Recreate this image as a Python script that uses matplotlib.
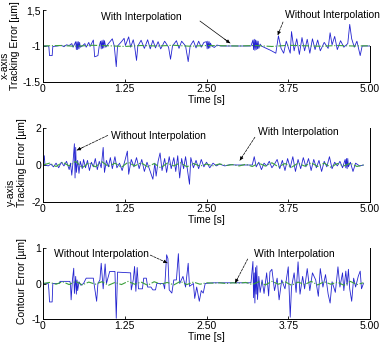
import matplotlib
matplotlib.use("Agg")
import matplotlib.pyplot as plt

plt.rcParams['font.family'] = ['Liberation Sans', 'DejaVu Sans']
plt.rcParams['font.size'] = 7.5

# ---- x-axis tracking error ----
tx_wo = [0.00, 0.08, 0.09, 0.10, 0.14, 0.15, 0.22, 0.28, 0.32, 0.36,
         0.40, 0.44, 0.46, 0.50, 0.51, 0.52, 0.53, 0.54, 0.55, 0.56,
         0.57, 0.60, 0.64, 0.66, 0.70, 0.72, 0.77, 0.79, 0.84, 0.86,
         0.88, 0.89, 0.90, 0.91, 0.92, 0.93, 0.94, 0.96, 1.00, 1.06,
         1.09, 1.12, 1.14, 1.20, 1.24, 1.26, 1.31, 1.34, 1.38, 1.40,
         1.43, 1.45, 1.50, 1.55, 1.60, 1.64, 1.68, 1.72, 1.76, 1.80,
         1.86, 1.92, 1.95, 1.98, 2.04, 2.08, 2.12, 2.18, 2.22, 2.25,
         2.30, 2.34, 2.38, 2.42, 2.46, 2.50, 2.51, 2.52, 2.53, 2.54,
         2.55, 2.56, 2.58, 2.62, 2.66, 2.72, 2.80, 3.18, 3.21, 3.22,
         3.23, 3.24, 3.25, 3.26, 3.27, 3.28, 3.29, 3.30, 3.32, 3.34,
         3.40, 3.48, 3.56, 3.60, 3.64, 3.68, 3.72, 3.78, 3.80, 3.84,
         3.88, 3.92, 3.96, 4.00, 4.04, 4.08, 4.12, 4.16, 4.20, 4.24,
         4.30, 4.36, 4.39, 4.42, 4.46, 4.50, 4.55, 4.60, 4.66, 4.69,
         4.72, 4.76, 4.80, 4.85, 4.88, 5.00]
ex_wo = [0.00, 0.00, -0.05, -0.40, -0.40, -0.02, 0.00, 0.03, -0.03, 0.05,
         0.02, 0.10, -0.05, 0.18, -0.15, 0.18, -0.15, 0.18, -0.12, 0.15,
         -0.05, 0.00, 0.10, -0.05, 0.15, -0.02, 0.25, -0.45, -0.40, 0.00,
         0.20, -0.12, 0.22, -0.10, 0.25, -0.08, 0.22, -0.05, 0.10, 0.30,
         0.00, -0.86, 0.00, 0.18, 0.32, 0.02, 0.38, -0.05, 0.26, 0.00,
         -0.60, 0.00, 0.24, -0.10, 0.26, -0.12, 0.24, -0.08, 0.18, -0.12,
         0.20, -0.05, -0.55, 0.00, 0.22, -0.10, 0.20, 0.00, -0.65, 0.00,
         0.22, -0.08, 0.20, -0.05, 0.15, 0.18, -0.12, 0.20, -0.10, 0.18,
         -0.08, 0.12, 0.00, -0.06, 0.04, 0.00, 0.00, 0.00, 0.25, -0.15,
         0.28, -0.18, 0.25, -0.15, 0.22, -0.12, 0.20, -0.10, 0.08, 0.00,
         -0.08, -0.18, -0.30, 0.42, -0.10, -0.30, 0.20, -0.30, 0.60, -0.20,
         0.30, -0.35, 0.35, -0.20, 0.28, -0.30, 0.30, -0.15, 0.25, -0.20,
         0.15, -0.10, 0.55, 0.05, 0.40, -0.15, 0.22, -0.05, 0.10, 0.90,
         0.30, -0.05, 0.20, -0.40, 0.00, 0.00]
tx_w = [0.0, 0.25, 0.5, 0.75, 1.0, 1.25, 1.5, 1.75, 2.0, 2.25, 2.5,
        2.75, 3.0, 3.25, 3.5, 3.75, 4.0, 4.25, 4.5, 4.75, 5.0]
ex_w = [0.00, 0.02, -0.01, 0.03, 0.01, -0.02, 0.02, 0.00, 0.03, -0.01, 0.02,
        0.01, 0.00, 0.02, -0.02, 0.03, 0.01, -0.01, 0.02, 0.00, 0.01]

# ---- y-axis tracking error ----
ty_wo = [0.00, 0.02, 0.03, 0.08, 0.12, 0.16, 0.20, 0.24, 0.28, 0.32,
         0.36, 0.40, 0.42, 0.44, 0.46, 0.48, 0.49, 0.50, 0.51, 0.53,
         0.55, 0.57, 0.60, 0.62, 0.65, 0.68, 0.71, 0.74, 0.77, 0.80,
         0.83, 0.86, 0.89, 0.92, 0.94, 0.97, 1.00, 1.03, 1.06, 1.10,
         1.13, 1.17, 1.21, 1.25, 1.29, 1.31, 1.35, 1.39, 1.43, 1.47,
         1.51, 1.55, 1.59, 1.63, 1.68, 1.71, 1.73, 1.76, 1.79, 1.82,
         1.86, 1.89, 1.93, 1.96, 2.00, 2.03, 2.06, 2.09, 2.12, 2.15,
         2.18, 2.21, 2.24, 2.26, 2.30, 2.34, 2.38, 2.42, 2.46, 2.50,
         2.55, 2.60, 2.65, 2.70, 2.78, 2.86, 2.95, 3.20, 3.23, 3.26,
         3.30, 3.34, 3.38, 3.42, 3.46, 3.50, 3.54, 3.58, 3.62, 3.66,
         3.70, 3.74, 3.78, 3.82, 3.86, 3.90, 3.94, 3.98, 4.02, 4.06,
         4.10, 4.14, 4.18, 4.22, 4.26, 4.30, 4.34, 4.38, 4.42, 4.46,
         4.50, 4.54, 4.58, 4.62, 4.63, 4.64, 4.65, 4.66, 4.67, 4.70,
         4.74, 4.78, 4.84, 4.90]
ey_wo = [0.00, 0.50, 0.00, -0.05, 0.05, -0.10, 0.10, -0.15, 0.15, -0.05,
         0.20, -0.25, 0.10, -0.55, 0.20, 1.15, -0.70, 0.95, -0.40, 0.25,
         -0.45, 0.20, -0.20, 0.30, -0.15, 0.25, -0.30, 0.15, -0.10, 0.35,
         -0.25, 0.20, -0.15, 0.95, -0.40, 0.25, -0.10, 0.40, -0.20, 0.45,
         -0.15, 0.10, -0.30, 0.20, 0.75, -0.50, 0.30, -0.10, 0.40, -0.20,
         0.30, -0.35, 0.15, -0.25, -0.77, 0.10, -0.60, 0.20, 0.65, -0.30,
         0.35, -0.40, 0.45, -0.20, 0.40, -0.35, 0.50, -0.70, 0.35, -0.20,
         0.45, -0.30, -1.04, 0.40, -0.15, 0.25, -0.20, 0.30, -0.10, 0.15,
         -0.15, 0.10, -0.05, 0.05, -0.05, 0.02, 0.00, 0.00, 0.45, -0.10,
         0.15, -0.25, 0.10, -0.05, 0.20, -0.15, 0.05, 0.30, -0.20, 0.25,
         -0.30, 0.35, -0.15, 0.45, -0.35, 0.30, -0.20, 0.40, -0.10, 0.35,
         -0.30, 0.30, -0.15, 0.25, -0.35, 0.20, -0.10, 0.45, -0.20, 0.15,
         -0.05, 0.20, -0.15, 0.30, -0.15, 0.35, -0.20, 0.35, -0.10, 0.15,
         -0.35, 0.10, -0.05, 0.00]
t_grid = [0.0, 0.1, 0.2, 0.3, 0.4, 0.5, 0.6, 0.7, 0.8, 0.9,
          1.0, 1.1, 1.2, 1.3, 1.4, 1.5, 1.6, 1.7, 1.8, 1.9,
          2.0, 2.1, 2.2, 2.3, 2.4, 2.5, 2.6, 2.7, 2.8, 2.9,
          3.0, 3.1, 3.2, 3.3, 3.4, 3.5, 3.6, 3.7, 3.8, 3.9,
          4.0, 4.1, 4.2, 4.3, 4.4, 4.5, 4.6, 4.7, 4.8, 4.9]
ey_w = [0.00, 0.10, -0.08, 0.15, -0.05, 0.20, -0.15, 0.12, -0.10, 0.18,
        -0.08, 0.10, -0.12, 0.15, -0.05, 0.12, -0.10, 0.08, -0.15, 0.10,
        -0.05, 0.12, -0.10, 0.08, -0.06, 0.05, -0.04, 0.06, -0.03, 0.02,
        -0.05, 0.04, -0.08, 0.10, -0.06, 0.12, -0.10, 0.08, -0.12, 0.10,
        -0.06, 0.12, -0.08, 0.10, -0.12, 0.08, -0.05, 0.10, -0.08, 0.00]

# ---- contour error ----
tc_wo = [0.00, 0.08, 0.09, 0.10, 0.14, 0.15, 0.25, 0.26, 0.41, 0.42,
         0.43, 0.45, 0.47, 0.48, 0.50, 0.51, 0.52, 0.53, 0.55, 0.58,
         0.62, 0.66, 0.77, 0.78, 0.82, 0.84, 0.87, 0.89, 0.92, 0.95,
         0.97, 1.02, 1.10, 1.12, 1.14, 1.34, 1.35, 1.38, 1.40, 1.42,
         1.44, 1.46, 1.52, 1.54, 1.58, 1.60, 1.65, 1.68, 1.72, 1.74,
         1.84, 1.86, 1.89, 1.91, 1.93, 1.97, 2.00, 2.04, 2.07, 2.09,
         2.14, 2.18, 2.22, 2.24, 2.30, 2.32, 2.35, 2.39, 2.42, 2.45,
         2.48, 2.60, 3.18, 3.21, 3.22, 3.23, 3.24, 3.25, 3.26, 3.27,
         3.28, 3.30, 3.32, 3.35, 3.38, 3.42, 3.45, 3.47, 3.50, 3.54,
         3.58, 3.61, 3.65, 3.70, 3.75, 3.78, 3.80, 3.84, 3.87, 3.90,
         3.93, 3.97, 4.00, 4.04, 4.08, 4.12, 4.17, 4.21, 4.24, 4.28,
         4.32, 4.36, 4.39, 4.42, 4.47, 4.51, 4.54, 4.58, 4.60, 4.63,
         4.65, 4.67, 4.69, 4.72, 4.75, 4.78, 4.82, 4.85, 4.87, 4.90]
ec_wo = [0.00, 0.00, -0.18, -0.52, -0.52, 0.00, 0.00, 0.06, 0.06, 0.00,
         -0.46, 0.10, 0.43, -0.28, 0.20, -0.30, 0.10, -0.20, 0.05, -0.05,
         0.00, 0.15, 0.15, 0.00, -0.50, 0.00, 0.10, 0.57, -0.15, 0.55,
         0.00, 0.34, 0.34, -0.98, 0.32, 0.30, -0.18, 0.10, 0.48, -0.22,
         0.45, -0.15, -0.15, 0.15, 0.15, -0.10, -0.10, -0.18, -0.18, 0.00,
         0.00, -0.15, 0.81, 0.70, -0.18, -0.27, 0.10, 0.10, 0.84, 0.00,
         0.20, -0.10, 0.57, -0.08, 0.00, -0.42, -0.10, -0.50, -0.20, -0.27,
         0.00, 0.02, 0.02, 0.62, -0.40, 0.30, -0.55, 0.45, -0.30, 0.50,
         -0.45, 0.20, -0.25, 0.10, -0.28, 0.30, -0.35, 0.33, 0.40, -0.20,
         0.15, -0.46, 0.10, -0.15, 0.47, -0.95, -0.10, 0.30, -0.25, 0.61,
         -0.30, 0.20, -0.15, 0.42, -0.20, 0.30, 0.10, -0.36, 0.42, -0.10,
         0.25, -0.30, -0.55, 0.05, -0.25, 0.47, -0.10, 0.30, -0.20, 0.35,
         -0.05, 0.40, -0.15, -0.50, 0.15, -0.10, 0.20, 0.35, -0.15, 0.00]
ec_w = [0.00, 0.03, -0.02, 0.05, -0.03, 0.06, -0.04, 0.04, -0.02, 0.05,
        -0.05, 0.03, -0.03, 0.06, -0.02, 0.04, -0.05, 0.05, -0.02, 0.03,
        -0.04, 0.06, -0.03, 0.04, -0.02, 0.02, 0.01, 0.02, 0.00, 0.02,
        0.01, 0.03, -0.03, 0.05, -0.04, 0.06, -0.02, 0.05, -0.05, 0.04,
        -0.03, 0.06, -0.04, 0.05, -0.02, 0.04, -0.05, 0.06, -0.03, 0.02]

xticks = [0, 1.25, 2.5, 3.75, 5.0]
xticklabels = ['0', '1.25', '2.50', '3.75', '5.00']

W, H = 386, 346
fig = plt.figure(figsize=(W / 100, H / 100), dpi=100)
fig.patch.set_facecolor('white')

BLUE = '#2424d0'
GREEN = '#3ca03c'


def px_axes(left, top, right, bottom):
    return fig.add_axes([left / W, 1 - bottom / H, (right - left) / W, (bottom - top) / H])


def style(ax, ylim, yticks, yticklabels):
    ax.set_xlim(0, 5)
    ax.set_ylim(*ylim)
    ax.set_xticks(xticks)
    ax.set_xticklabels(xticklabels)
    ax.set_yticks(yticks)
    ax.set_yticklabels(yticklabels)
    ax.spines['top'].set_visible(False)
    for s in ['left', 'bottom', 'right']:
        ax.spines[s].set_linewidth(0.7)
    ax.tick_params(direction='in', length=2, width=0.6, pad=1.5, labelsize=7.5)
    ax.set_xlabel('Time [s]', labelpad=0.5, fontsize=7.5)


def arrow(ax, text_pt, tip, dashed=True):
    x0, y0 = text_pt
    x1, y1 = tip
    ax.annotate('', xy=(x1, y1), xytext=(x0, y0),
                arrowprops=dict(arrowstyle='-', lw=0.5, color='black',
                                ls='--' if dashed else '-',
                                shrinkA=0, shrinkB=0))
    xm = x1 + (x0 - x1) * 0.18
    ym = y1 + (y0 - y1) * 0.18
    ax.annotate('', xy=(x1, y1), xytext=(xm, ym),
                arrowprops=dict(arrowstyle='-|>', lw=0.5, color='black',
                                mutation_scale=5, shrinkA=0, shrinkB=0))


# top panel
ax1 = px_axes(43, 10, 370, 82)
ax1.plot(tx_wo, ex_wo, color=BLUE, lw=0.6)
ax1.plot(tx_w, ex_w, color=GREEN, lw=0.8, ls='-.')
style(ax1, (-1.5, 1.5), [-1.5, 0, 1.5], ['-1.5', '-1', '1,5'])
ax1.spines['right'].set_bounds(-1.5, 0)
ax1.text(1.51, 1.21, 'With Interpolation', ha='center', va='center')
arrow(ax1, (2.40, 1.04), (2.86, 0.12), dashed=False)
ax1.text(4.43, 1.29, 'Without Interpolation', ha='center', va='center', clip_on=False)
arrow(ax1, (3.67, 1.0), (3.59, 0.46))

# middle panel
ax2 = px_axes(43, 128, 370, 202)
ax2.plot(ty_wo, ey_wo, color=BLUE, lw=0.6)
ax2.plot(t_grid, ey_w, color=GREEN, lw=0.8, ls='-.')
style(ax2, (-2, 2), [-2, 0, 2], ['-2', '0', '2'])
ax2.text(1.77, 1.57, 'Without Interpolation', ha='center', va='center')
arrow(ax2, (0.99, 1.6), (0.52, 0.8))
ax2.text(3.9, 1.77, 'With Interpolation', ha='center', va='center')
arrow(ax2, (3.24, 1.5), (3.01, 0.25))

# bottom panel
ax3 = px_axes(43, 248, 370, 319)
ax3.plot(tc_wo, ec_wo, color=BLUE, lw=0.6)
ax3.plot(t_grid, ec_w, color=GREEN, lw=0.8, ls='-.')
style(ax3, (-1, 1), [-1, 0, 1], ['-1', '0', '1'])
ax3.text(0.89, 0.83, 'Without Interpolation', ha='center', va='center')
arrow(ax3, (1.64, 0.8), (1.9, 0.58))
ax3.text(3.84, 0.83, 'With Interpolation', ha='center', va='center')
arrow(ax3, (3.13, 0.69), (2.94, 0.02))

# y labels
fig.text(5 / W, 1 - 65 / H, 'x-axis', rotation=90, ha='center', va='center', fontsize=7.5)
fig.text(15 / W, 1 - 46 / H, 'Tracking Error [µm]', rotation=90, ha='center', va='center', fontsize=7.5)
fig.text(11 / W, 1 - 192 / H, 'y-axis', rotation=90, ha='center', va='center', fontsize=7.5)
fig.text(22 / W, 1 - 163 / H, 'Tracking Error [µm]', rotation=90, ha='center', va='center', fontsize=7.5)
fig.text(22 / W, 1 - 281 / H, 'Contour Error [µm]', rotation=90, ha='center', va='center', fontsize=7.5)

fig.savefig('out.png', dpi=100)
